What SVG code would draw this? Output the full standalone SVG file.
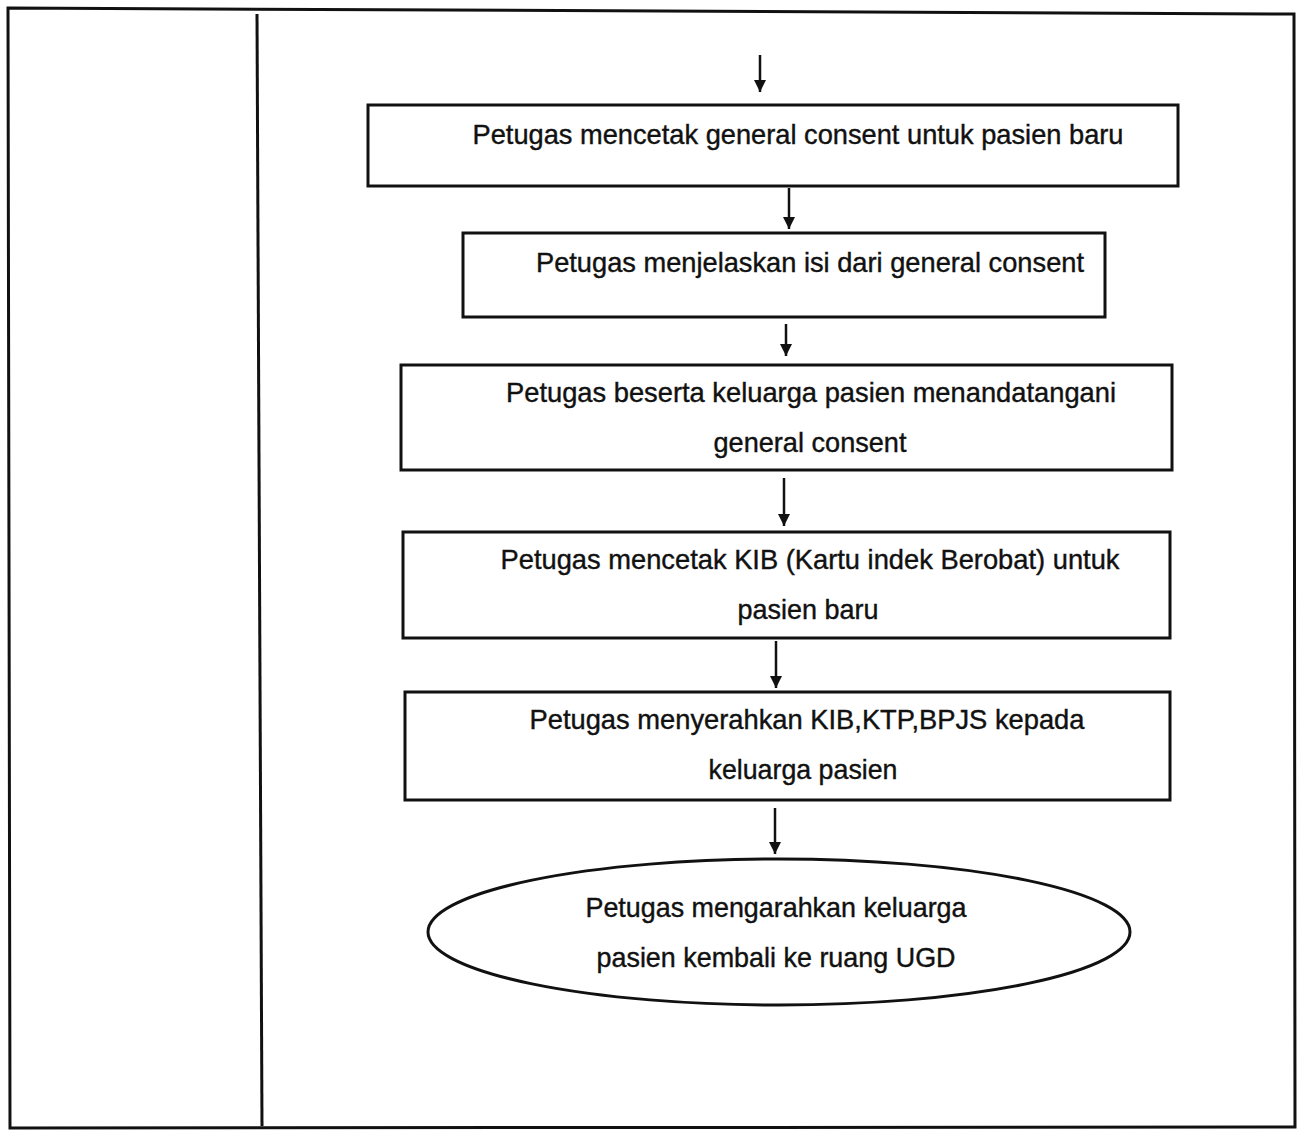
<svg xmlns="http://www.w3.org/2000/svg" width="1303" height="1131" viewBox="0 0 1303 1131">
<defs>
<style>
.frame{fill:none;stroke:#111;stroke-width:3}
.box{fill:#fff;stroke:#111;stroke-width:3}
.lbl{font-family:"Liberation Sans",Arial,sans-serif;font-size:28px;fill:#111;text-anchor:middle;stroke:#111;stroke-width:0.4}
.conn{stroke:#111;stroke-width:2.5;fill:none;marker-end:url(#ah)}
</style>
<marker id="ah" viewBox="0 0 10 10" refX="10" refY="5" markerWidth="5" markerHeight="5" markerUnits="strokeWidth" orient="auto">
<path d="M0,0 L10,5 L0,10 z" fill="#111"/>
</marker>
</defs>
<rect width="1303" height="1131" fill="#fff"/>
<g id="table">
<path class="frame" d="M8,8 L1294,14 L1295,1127 L10,1128 Z"/>
<path class="frame" d="M257,14 L262,1126"/>
</g>
<g id="connectors">
<line class="conn" x1="760" y1="55" x2="760" y2="92"/>
<line class="conn" x1="789" y1="188" x2="789" y2="229"/>
<line class="conn" x1="786" y1="324" x2="786" y2="356"/>
<line class="conn" x1="784" y1="478" x2="784" y2="526"/>
<line class="conn" x1="776" y1="641" x2="776" y2="688"/>
<line class="conn" x1="775" y1="808" x2="775" y2="854"/>
</g>
<g id="n1">
<rect class="box" x="368" y="105" width="810" height="81"/>
<text class="lbl" x="798" y="144" textLength="651" lengthAdjust="spacingAndGlyphs">Petugas mencetak general consent untuk pasien baru</text>
</g>
<g id="n2">
<rect class="box" x="463" y="233" width="642" height="84"/>
<text class="lbl" x="810" y="272" textLength="548" lengthAdjust="spacingAndGlyphs">Petugas menjelaskan isi dari general consent</text>
</g>
<g id="n3">
<rect class="box" x="401" y="365" width="771" height="105"/>
<text class="lbl" x="811" y="402" textLength="610" lengthAdjust="spacingAndGlyphs">Petugas beserta keluarga pasien menandatangani</text>
<text class="lbl" x="810" y="452" textLength="193" lengthAdjust="spacingAndGlyphs">general consent</text>
</g>
<g id="n4">
<rect class="box" x="403" y="532" width="767" height="106"/>
<text class="lbl" x="810" y="569" textLength="619" lengthAdjust="spacingAndGlyphs">Petugas mencetak KIB (Kartu indek Berobat) untuk</text>
<text class="lbl" x="808" y="619" textLength="141" lengthAdjust="spacingAndGlyphs">pasien baru</text>
</g>
<g id="n5">
<rect class="box" x="405" y="692" width="765" height="108"/>
<text class="lbl" x="807" y="729" textLength="555" lengthAdjust="spacingAndGlyphs">Petugas menyerahkan KIB,KTP,BPJS kepada</text>
<text class="lbl" x="803" y="779" textLength="189" lengthAdjust="spacingAndGlyphs">keluarga pasien</text>
</g>
<g id="n6">
<ellipse class="box" cx="779" cy="932" rx="351" ry="73"/>
<text class="lbl" x="776" y="917" textLength="381" lengthAdjust="spacingAndGlyphs">Petugas mengarahkan keluarga</text>
<text class="lbl" x="776" y="967" textLength="359" lengthAdjust="spacingAndGlyphs">pasien kembali ke ruang UGD</text>
</g>
</svg>
